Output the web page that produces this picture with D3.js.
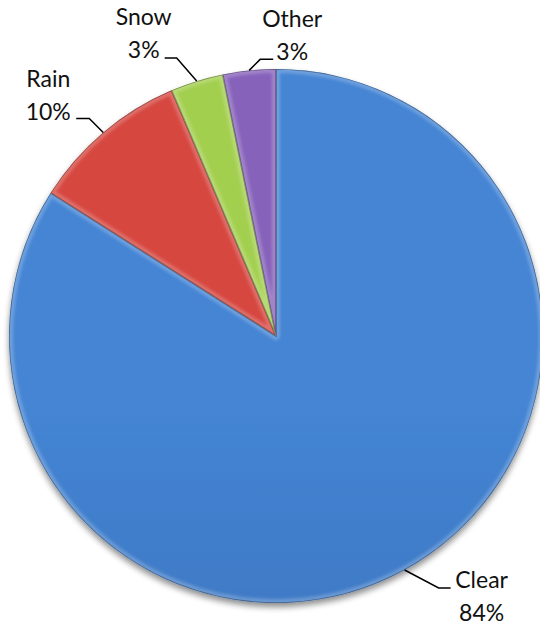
<!DOCTYPE html>
<html>
<head>
<meta charset="utf-8">
<script src="https://cdn.jsdelivr.net/npm/d3@7"></script>
<style>
  html, body { margin: 0; padding: 0; background: #fff; }
  svg { display: block; }
</style>
</head>
<body>
<svg id="chart" width="540" height="625"></svg>
<script>
// ---- data ----
const categories = ["Clear", "Rain", "Snow", "Other"];
const values = [84.0, 9.6, 3.2, 3.2];

// ---- styles / layout (kept apart from the data) ----
const colorsLight = ["#4485d4", "#d6463f", "#a3cf50", "#8762bb"];
const colorsDark  = ["#3667ae", "#b93833", "#8ab33f", "#70509f"];
// leader layout: elbow offset from the edge point, horizontal tail length, text centre offset from tail end
const labelLayout = [
  { elbow: [34, 18],  tail: 12,  text: [31, 0] },
  { elbow: [-14, -14], tail: -13, text: [-28, -31] },
  { elbow: [-20, -23], tail: -12, text: [-21, -33] },
  { elbow: [11, -11], tail: 13,  text: [19, -32] }
];
const cx = 276, cy = 336, R = 267;
const lineGap = 33;

const svg = d3.select("#chart");
const defs = svg.append("defs");

// shadow filter
const sh = defs.append("filter").attr("id", "shadow")
  .attr("x", "-10%").attr("y", "-10%").attr("width", "120%").attr("height", "125%");
sh.append("feGaussianBlur").attr("in", "SourceAlpha").attr("stdDeviation", 3).attr("result", "b");
sh.append("feOffset").attr("in", "b").attr("dx", 0).attr("dy", 4).attr("result", "o");
sh.append("feComponentTransfer").attr("in", "o").attr("result", "o2")
  .append("feFuncA").attr("type", "linear").attr("slope", 0.45);
const mg = sh.append("feMerge");
mg.append("feMergeNode").attr("in", "o2");
mg.append("feMergeNode").attr("in", "SourceGraphic");

const blur = defs.append("filter").attr("id", "soft")
  .attr("x", "-5%").attr("y", "-5%").attr("width", "110%").attr("height", "110%");
blur.append("feGaussianBlur").attr("stdDeviation", 1.8);

categories.forEach((c, i) => {
  const g = defs.append("linearGradient").attr("id", "grad" + i)
    .attr("gradientUnits", "userSpaceOnUse")
    .attr("x1", 0).attr("y1", cy - R).attr("x2", 0).attr("y2", cy + R);
  g.append("stop").attr("offset", "0%").attr("stop-color", colorsLight[i]);
  g.append("stop").attr("offset", "100%").attr("stop-color", colorsDark[i]);
});

const pie = d3.pie().sort(null).value(d => d)(values);
const arc = d3.arc().innerRadius(0).outerRadius(R);

const gPie = svg.append("g").attr("transform", `translate(${cx},${cy})`).attr("filter", "url(#shadow)");

pie.forEach((p, i) => {
  defs.append("clipPath").attr("id", "clip" + i)
    .attr("clipPathUnits", "userSpaceOnUse")
    .append("path").attr("d", arc(p)).attr("transform", `translate(${cx},${cy})`);
});

const slices = gPie.selectAll("g.slice").data(pie).enter().append("g").attr("class", "slice");
slices.append("path")
  .attr("d", arc)
  .attr("fill", (d, i) => `url(#grad${i})`);

// bevel: light inner rim + dark outer rim, clipped to each slice
const bevel = svg.append("g");
pie.forEach((p, i) => {
  const gb = bevel.append("g").attr("clip-path", `url(#clip${i})`);
  gb.append("path").attr("d", arc(p)).attr("transform", `translate(${cx},${cy})`)
    .attr("fill", "none").attr("stroke", "#ffffff").attr("stroke-opacity", 0.22)
    .attr("stroke-width", 8).attr("stroke-linejoin", "round").attr("filter", "url(#soft)");
  gb.append("path").attr("d", arc(p)).attr("transform", `translate(${cx},${cy})`)
    .attr("fill", "none").attr("stroke", "#000").attr("stroke-opacity", 0.35)
    .attr("stroke-width", 1.6);
});

// labels with leader lines
const fmt = d3.format(".0%");
const total = d3.sum(values);
const lg = svg.append("g");
pie.forEach((p, i) => {
  const mid = (p.startAngle + p.endAngle) / 2;
  const ex = cx + R * Math.sin(mid), ey = cy - R * Math.cos(mid);
  const L = labelLayout[i];
  const bx = ex + L.elbow[0], by = ey + L.elbow[1];
  const tx = bx + L.tail;
  lg.append("path")
    .attr("d", d3.line()([[ex, ey], [bx, by], [tx, by]]))
    .attr("fill", "none").attr("stroke", "#000").attr("stroke-width", 1.5);
  const t = lg.append("text")
    .attr("x", tx + L.text[0]).attr("y", by + L.text[1])
    .attr("text-anchor", "middle")
    .attr("font-family", "Lato, 'Open Sans', sans-serif")
    .attr("font-size", 23).attr("fill", "#111");
  t.append("tspan").attr("x", tx + L.text[0]).attr("y", by + L.text[1]).text(categories[i]);
  t.append("tspan").attr("x", tx + L.text[0]).attr("y", by + L.text[1] + lineGap).text(fmt(values[i] / total));
});
</script>
</body>
</html>
